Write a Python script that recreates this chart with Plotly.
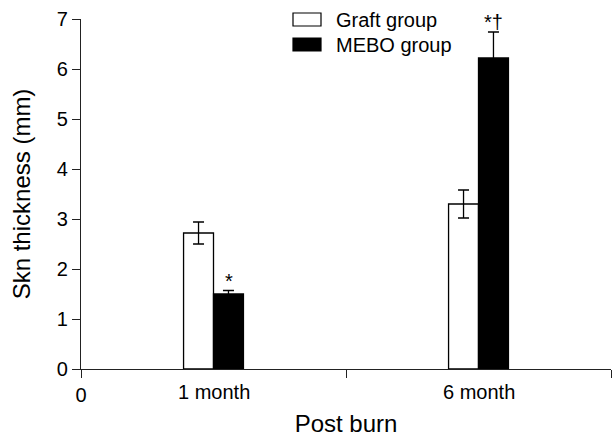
import plotly.graph_objects as go

categories = ["1 month", "6 month"]
positions = [0.5, 1.5]
graft_mean = [2.72, 3.30]
graft_err = [0.22, 0.28]
mebo_mean = [1.50, 6.22]
mebo_err = [0.07, 0.52]
mebo_marks = ["*", "*†"]
y_ticks = [0, 1, 2, 3, 4, 5, 6, 7]

FONT = "Arial, Liberation Sans, sans-serif"
FS = 20

# plot area in pixels (for manual legend placement)
L, R, T, B = 81, 5, 19, 71
PW, PH = 616 - L - R, 440 - T - B

fig = go.Figure()
fig.add_trace(go.Bar(
    x=positions, y=graft_mean, name="Graft group",
    marker=dict(color="white", line=dict(color="black", width=1.3)),
    error_y=dict(type="data", array=graft_err, color="black", thickness=1.3, width=5.5),
    showlegend=False,
))
fig.add_trace(go.Bar(
    x=positions, y=mebo_mean, name="MEBO group",
    marker=dict(color="black", line=dict(color="black", width=1.3)),
    error_y=dict(type="data", array=mebo_err, color="black", thickness=1.3, width=5.5),
    showlegend=False,
))

annotations = []
# significance marks over the MEBO bars (MEBO bar is the right one of each group)
for i, (m, e, t) in enumerate(zip(mebo_mean, mebo_err, mebo_marks)):
    annotations.append(dict(x=positions[i], y=m + e, xref="x", yref="y", text=t,
                            showarrow=False, yanchor="bottom", xshift=15, yshift=-3,
                            font=dict(family=FONT, size=FS, color="black")))
# category tick labels
for p, c in zip(positions, categories):
    annotations.append(dict(x=p, y=0, xref="x", yref="y", text=c, showarrow=False,
                            yanchor="top", yshift=-10,
                            font=dict(family=FONT, size=FS, color="black")))

# manual legend
legend_items = [("Graft group", "white"), ("MEBO group", "black")]
shapes = []
for k, (name, col) in enumerate(legend_items):
    top = 13 + k * 25
    shapes.append(dict(type="rect", xref="paper", yref="paper",
                       x0=(293 - L) / PW, x1=(321 - L) / PW,
                       y0=(440 - B - (top + 13)) / PH, y1=(440 - B - top) / PH,
                       fillcolor=col, line=dict(color="black", width=1.2)))
    annotations.append(dict(x=(334 - L) / PW, y=(440 - B - (top + 7)) / PH,
                            xref="paper", yref="paper", text=name, showarrow=False,
                            xanchor="left", yanchor="middle",
                            font=dict(family=FONT, size=FS, color="black")))

fig.update_layout(
    width=616, height=440,
    margin=dict(l=L, r=R, t=T, b=B),
    plot_bgcolor="white", paper_bgcolor="white",
    barmode="group", bargap=0.774, bargroupgap=0,
    font=dict(family=FONT, size=FS, color="black"),
    annotations=annotations, shapes=shapes,
    xaxis=dict(range=[0, 2], tickvals=[0, 1, 2], ticktext=["0", "", ""],
               ticks="outside", ticklen=8, tickwidth=1.3, tickcolor="#222",
               showline=True, linecolor="#222", linewidth=1.3, showgrid=False,
               zeroline=False, automargin=False,
               title=dict(text="Post burn", standoff=10),
               tickfont=dict(size=FS)),
    yaxis=dict(range=[0, 7], tickvals=y_ticks, ticks="outside", ticklen=8,
               tickwidth=1.3, tickcolor="#222", showline=True, linecolor="#222",
               linewidth=1.3, showgrid=False, zeroline=False, automargin=False,
               title=dict(text="Skn thickness (mm)", standoff=19),
               tickfont=dict(size=FS)),
)

fig.write_html("out.html")
